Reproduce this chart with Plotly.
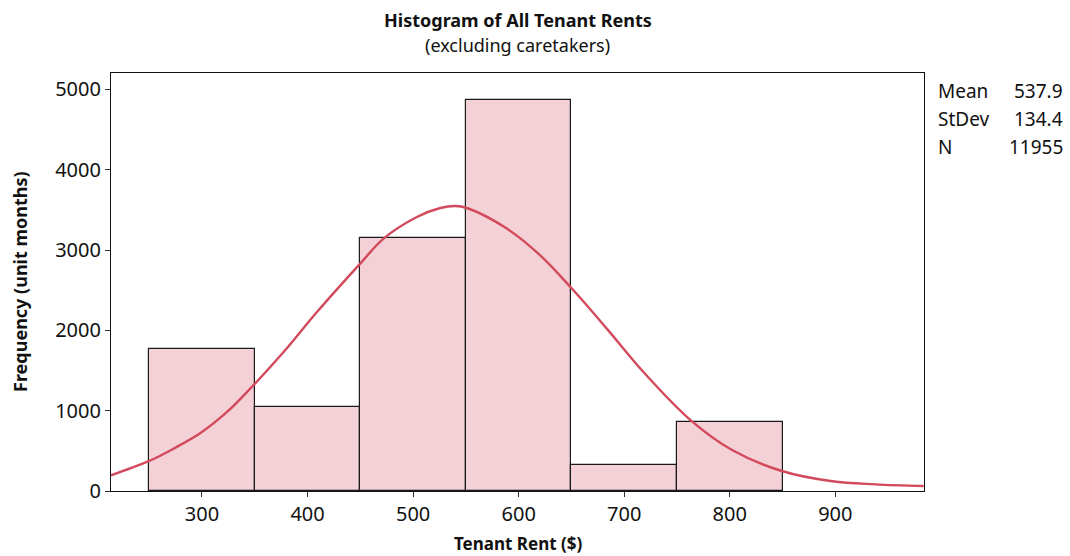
import plotly.graph_objects as go

# Histogram bins (left edges) and frequencies
bin_left = [250, 350, 450, 550, 650, 750]
bin_width = 100
freq = [1773, 1051, 3156, 4865, 329, 859]

# Fitted normal curve
curve_x = [213.8, 250, 273.1, 298.6, 323.7, 345.7, 377.3, 408.9, 449.9, 472, 503.6,
           525.7, 540, 550.9, 588.8, 620.4, 650.4, 683.5, 718.2, 763.1, 802.6,
           849.3, 897.2, 938, 983.7]
curve_y = [195, 374, 528, 722, 984, 1275, 1731, 2229, 2832, 3143, 3412,
           3524, 3549, 3524, 3268, 2935, 2521, 2022, 1482, 880, 507,
           249, 121, 83, 62]

x_ticks = [300, 400, 500, 600, 700, 800, 900]
y_ticks = [0, 1000, 2000, 3000, 4000, 5000]

stat_names = ["Mean", "StDev", "N"]
stat_values = ["537.9", "134.4", "11955"]

FONT = "Noto Sans"

fig = go.Figure()
fig.add_trace(go.Bar(
    x=[b + bin_width / 2 for b in bin_left],
    y=freq,
    width=bin_width,
    marker=dict(color="#F3D1D6", line=dict(color="#1a1a1a", width=1.2)),
    showlegend=False,
    hoverinfo="x+y",
))
fig.add_trace(go.Scatter(
    x=curve_x, y=curve_y, mode="lines", line_shape="spline",
    line=dict(color="#D24A5C", width=2.4), showlegend=False,
))

fig.update_layout(
    width=1070, height=556,
    margin=dict(l=111, r=146, t=73, b=65),
    paper_bgcolor="white", plot_bgcolor="white",
    font=dict(family=FONT, color="#111111"),
    bargap=0,
    xaxis=dict(range=[213.8, 984], tickvals=x_ticks, ticks="outside", ticklen=5,
               tickcolor="#333", showline=True, linecolor="#111", linewidth=1.2,
               mirror=True, showgrid=False, zeroline=False,
               tickfont=dict(size=20, family=FONT)),
    yaxis=dict(range=[0, 5205], tickvals=y_ticks, ticks="outside", ticklen=5,
               tickcolor="#333", showline=True, linecolor="#111", linewidth=1.2,
               mirror=True, showgrid=False, zeroline=False,
               tickfont=dict(size=20, family=FONT)),
)

ann = []
ann.append(dict(text="<b>Histogram of All Tenant Rents</b>", xref="paper", yref="paper",
                x=0.5, y=1, yshift=53, showarrow=False, font=dict(size=18, family=FONT),
                xanchor="center", yanchor="middle"))
ann.append(dict(text="(excluding caretakers)", xref="paper", yref="paper",
                x=0.5, y=1, yshift=28, showarrow=False, font=dict(size=18, family=FONT),
                xanchor="center", yanchor="middle"))
ann.append(dict(text="<b>Tenant Rent ($)</b>", xref="paper", yref="paper",
                x=0.5, y=0, yshift=-52, showarrow=False, font=dict(size=17, family=FONT),
                xanchor="center", yanchor="middle"))
ann.append(dict(text="<b>Frequency (unit months)</b>", xref="paper", yref="paper",
                x=0, xshift=-91, y=0.5, showarrow=False, textangle=-90,
                font=dict(size=18, family=FONT), xanchor="center", yanchor="middle"))
for i, (n, v) in enumerate(zip(stat_names, stat_values)):
    ypix = 91 + i * 28
    yp = 1 - (ypix - 73) / (491 - 73)
    ann.append(dict(text=n, xref="paper", yref="paper", x=1, xshift=12, y=yp,
                    showarrow=False, xanchor="left", yanchor="middle",
                    font=dict(size=19, family=FONT)))
    ann.append(dict(text=v, xref="paper", yref="paper", x=1, xshift=141, y=yp,
                    showarrow=False, xanchor="right", yanchor="middle",
                    font=dict(size=19, family=FONT)))
fig.update_layout(annotations=ann)

fig.write_html("out.html")
